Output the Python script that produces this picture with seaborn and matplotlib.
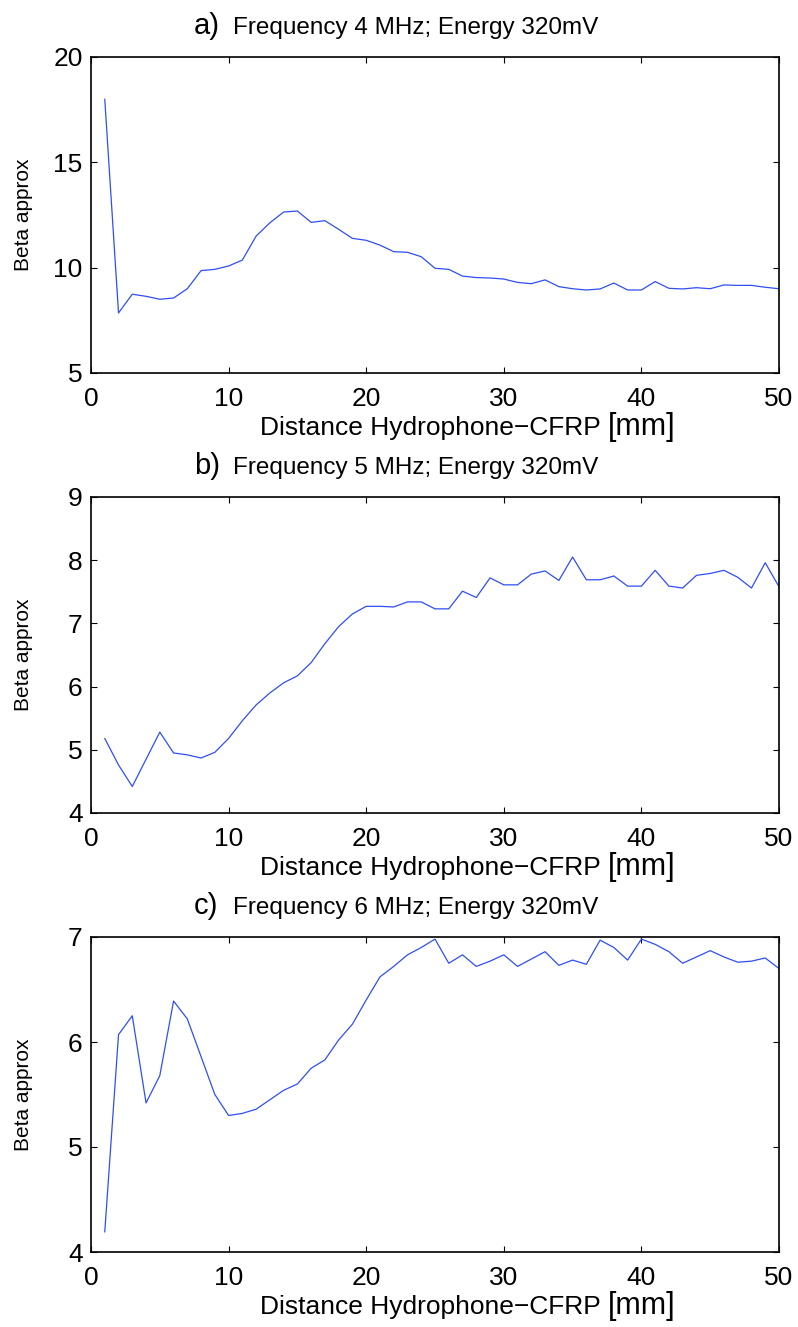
import matplotlib
matplotlib.use("Agg")
import matplotlib.pyplot as plt
import seaborn as sns
import pandas as pd

# ---- data ----
distance_mm = list(range(1, 51))

beta_4mhz = [18.0, 7.85, 8.74, 8.64, 8.50, 8.56, 9.0, 9.86, 9.92, 10.08,
             10.36, 11.5, 12.13, 12.64, 12.69, 12.15, 12.23, 11.82, 11.39, 11.30,
             11.07, 10.76, 10.73, 10.52, 9.97, 9.92, 9.6, 9.53, 9.51, 9.46,
             9.30, 9.24, 9.42, 9.10, 9.0, 8.94, 8.99, 9.27, 8.94, 8.94,
             9.34, 9.02, 8.99, 9.05, 9.0, 9.18, 9.16, 9.16, 9.07, 9.0]

beta_5mhz = [5.18, 4.76, 4.42, 4.85, 5.28, 4.95, 4.92, 4.87, 4.96, 5.18,
             5.46, 5.71, 5.90, 6.06, 6.17, 6.38, 6.68, 6.95, 7.15, 7.27,
             7.27, 7.26, 7.34, 7.34, 7.23, 7.23, 7.51, 7.41, 7.72, 7.61,
             7.61, 7.78, 7.83, 7.68, 8.05, 7.69, 7.69, 7.75, 7.59, 7.59,
             7.84, 7.59, 7.56, 7.76, 7.79, 7.84, 7.73, 7.56, 7.96, 7.58]

beta_6mhz = [4.19, 6.07, 6.25, 5.42, 5.68, 6.39, 6.22, 5.86, 5.50, 5.30,
             5.32, 5.36, 5.45, 5.54, 5.60, 5.75, 5.83, 6.02, 6.17, 6.40,
             6.62, 6.72, 6.83, 6.90, 6.98, 6.75, 6.83, 6.72, 6.77, 6.83,
             6.72, 6.79, 6.86, 6.73, 6.78, 6.74, 6.97, 6.90, 6.78, 6.98,
             6.93, 6.86, 6.75, 6.81, 6.87, 6.81, 6.76, 6.77, 6.80, 6.70]

panel_letters = ["a)", "b)", "c)"]
panel_titles = ["Frequency 4 MHz; Energy 320mV",
                "Frequency 5 MHz; Energy 320mV",
                "Frequency 6 MHz; Energy 320mV"]
y_limits = [(5, 20), (4, 9), (4, 7)]
y_ticks = [[5, 10, 15, 20], [4, 5, 6, 7, 8, 9], [4, 5, 6, 7]]
x_ticks = [0, 10, 20, 30, 40, 50]
x_label = "Distance Hydrophone\u2212CFRP"
x_unit = "[mm]"
y_label = "Beta approx"

# ---- style ----
sns.set_theme(style="white")
plt.rcParams["font.family"] = ["Liberation Sans", "DejaVu Sans"]

W, H = 798, 1327
fig = plt.figure(figsize=(W / 100, H / 100), dpi=100)

# axes boxes in pixels: (left, top, right, bottom)
boxes = [(91, 57, 779, 373), (91, 497, 779, 813), (91, 937, 779, 1252)]

series = [beta_4mhz, beta_5mhz, beta_6mhz]
line_color = "#2f4ef5"

for i, (box, vals) in enumerate(zip(boxes, series)):
    l, t, r, b = box
    ax = fig.add_axes([l / W, 1 - b / H, (r - l) / W, (b - t) / H])
    df = pd.DataFrame({"distance": distance_mm, "beta": vals})
    sns.lineplot(data=df, x="distance", y="beta", ax=ax, color=line_color,
                 linewidth=0.9)
    ax.set_xlim(0, 50)
    ax.set_ylim(*y_limits[i])
    ax.set_xticks(x_ticks)
    ax.set_yticks(y_ticks[i])
    ax.tick_params(direction="in", length=4.5, width=0.8, colors="black",
                   top=True, right=True, bottom=True, left=True,
                   labelsize=19)
    ax.tick_params(axis="y", pad=6)
    ax.tick_params(axis="x", pad=10)
    for s in ax.spines.values():
        s.set_visible(True)
        s.set_color("black")
        s.set_linewidth(1.2)
    ax.grid(False)

    # title: main part + larger panel letter
    title_x = (233 - l) / (r - l)
    ax.set_title(panel_titles[i], loc="left", x=title_x, y=1.0, pad=16.5,
                 fontsize=17.5, color="black")
    ax.annotate(panel_letters[i], xy=((194 - l) / (r - l), 1.0),
                xycoords="axes fraction", xytext=(0, 16.5),
                textcoords="offset points", ha="left", va="baseline",
                fontsize=21, color="black")

    ax.set_xlabel(x_label, fontsize=19, ha="left", x=(260 - l) / (r - l),
                  labelpad=4, color="black")
    ax.annotate(x_unit, xy=(1.0, 0.0), xycoords=ax.xaxis.label,
                xytext=(5, -1), textcoords="offset points",
                ha="left", va="bottom", fontsize=22, color="black")
    ax.set_ylabel(y_label, fontsize=15, color="black")
    ax.yaxis.set_label_coords((33 - l) / (r - l), 0.5)

fig.savefig("out.png", dpi=100, facecolor="white")
